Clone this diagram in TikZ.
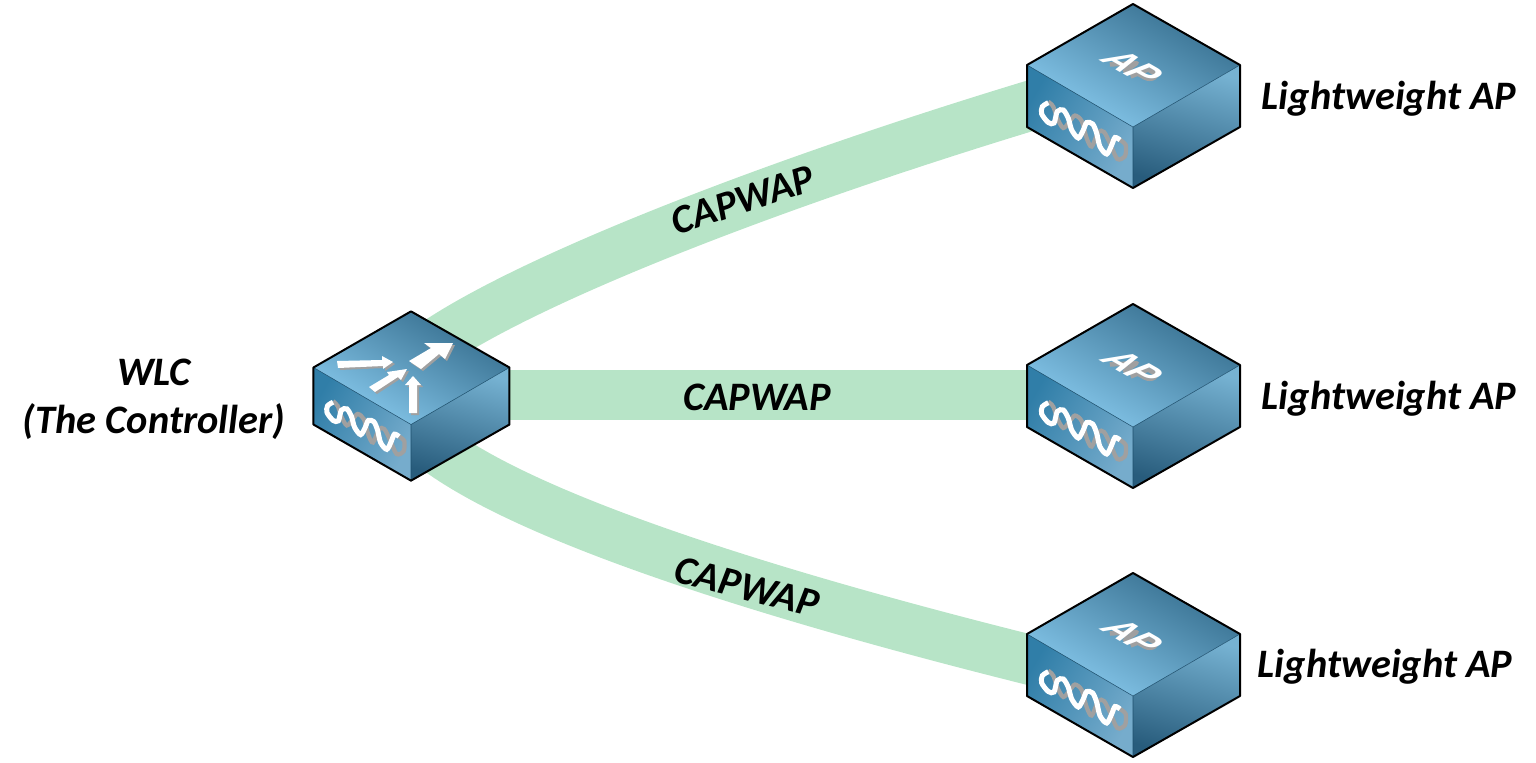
\documentclass[tikz,border=0pt]{standalone}
\usepackage{fontspec}
\setmainfont{Carlito}
\newfontfamily\aplabelfont{Liberation Sans}
\usetikzlibrary{calc}

\definecolor{bandgreen}{HTML}{B7E4C7}
\definecolor{shadowgray}{HTML}{A0A0A0}
\definecolor{topbright}{RGB}{136,202,238}
\definecolor{topdark}{RGB}{52,108,140}
\definecolor{leftdark}{RGB}{48,126,168}
\definecolor{leftbright}{RGB}{118,172,204}
\definecolor{rightbright}{RGB}{118,178,210}
\definecolor{rightdark}{RGB}{40,92,124}
\definecolor{edgeteal}{RGB}{30,80,110}

\tikzset{
	capwap/.style={bandgreen, line width=1cm},
	labeltext/.style={font=\fontsize{23}{27.5}\selectfont\bfseries\itshape, align=center, inner sep=0pt},
	pics/cubebox/.style={code={
		\shade[left color=topbright, right color=topdark, shading angle=150]
			(0,-92) -- (107,-31) -- (0,31) -- (-106,-31) -- cycle;
		\shade[left color=leftdark, right color=leftbright, shading angle=60]
			(-106,-31) -- (0,31) -- (0,92) -- (-106,31) -- cycle;
		\shade[top color=rightbright, bottom color=rightdark, shading angle=-15]
			(0,31) -- (107,-31) -- (107,31) -- (0,92) -- cycle;
		\draw[line width=.3pt, edgeteal] (-106,-31) -- (0,31) -- (107,-31) (0,31) -- (0,92);
		% chain on the front
		\draw[shadowgray, line width=.085cm] plot[smooth] coordinates {(-84.7,5.7) (-79.7,10.7) (-75.7,22.3) (-69.7,32) (-63,25) (-58,19.5) (-51.3,25) (-46.3,42.3) (-41.3,50.5) (-34.7,36) (-29,36) (-23,47.3) (-15.7,63) (-8,60) (-7.3,49) (-13,44)};
		\draw[white, line width=.1cm] plot[smooth] coordinates {(-84.7,6.7) (-90.7,10.7) (-91.3,18) (-84.7,26.5) (-79,27) (-75.7,15.5) (-69.7,14) (-64.7,22.3) (-61.3,34) (-54.7,42) (-49.7,34) (-46.3,26.5) (-40.3,28) (-36.3,37.3) (-33,50.7) (-26.3,58) (-21.3,49) (-18,41.5) (-13,44)};
		\draw[line width=.04cm, line join=round]
			(0,-92) -- (107,-31) -- (107,31) -- (0,92) -- (-106,31) -- (-106,-31) -- cycle;
	}},
	pics/aptext/.style={code={
		\begin{scope}[shift={(2,-26)}, cm={.87,-.5,.87,.5,(0,0)}]
			\draw[shadowgray, line width=.09cm, line join=round]
				(-20,9) -- (-6,-8) -- (-4,9) (-12,3) -- (-5,3)
				(4,9) -- (7,-8) -- (14,-8) .. controls (21,-8) and (20,2) .. (13,2) -- (6,2);
		\end{scope}
		\node[white, font=\aplabelfont\fontsize{21}{21}\selectfont\bfseries\itshape, transform shape, cm={.87,-.5,.87,.5,(0,0)}, inner sep=0pt] (-label) at (0,-29) {AP};
	}},
	pics/wlcarrows/.style={code={
		\foreach \dx/\dy/\arcol in {2/2/shadowgray, 0/0/white} {
			\begin{scope}[shift={(\dx,\dy)}]
				\fill[\arcol] (-2,-35) -- (20,-48) -- (13,-53) -- (42,-53) -- (34,-37) -- (28,-42) -- (10,-27) -- cycle;
				\fill[\arcol] (-74,-35) -- (-29,-36) -- (-29,-40) -- (-18,-34) -- (-28,-27) -- (-28,-30) -- (-73,-28) -- cycle;
				\fill[\arcol] (-42,-9) -- (-22,-21) -- (-24,-24) -- (-4,-27) -- (-10,-16) -- (-13,-19) -- (-36,-4) -- cycle;
				\fill[\arcol] (2,-20) -- (10,-11) -- (6,-11) -- (6,17) -- (-2,17) -- (-2,-11) -- (-6,-11) -- cycle;
			\end{scope}
		}
	}}
}

\begin{document}
\begin{tikzpicture}[x=0.02cm, y=-0.02cm]

	\useasboundingbox (0,0) rectangle (1536,762);

	\coordinate (wlc) at (411,395);
	\coordinate (ap1) at (1133,96);
	\coordinate (ap2) at (1133,395);
	\coordinate (ap3) at (1133,665);

	\coordinate (wlcup) at (423,352);
	\coordinate (wlcdown) at (425,440);
	\coordinate (ap1port) at (1100,85);
	\coordinate (ap3port) at (1100,677);

	% tunnels
	\draw[capwap] (wlcup) .. controls (520,280) and (800,172) .. (ap1port);
	\draw[capwap] (wlc) -- (ap2);
	\draw[capwap] (wlcdown) .. controls (520,520) and (800,605) .. (ap3port);

	% devices
	\pic[scale=.92] at (411,396) {cubebox};
	\pic at (411,396) {wlcarrows};
	\pic (ap1dev) at (ap1) {cubebox};
	\pic (ap1dev) at (ap1) {aptext};
	\pic (ap2dev) at (1133,396) {cubebox};
	\pic (ap2dev) at (1133,396) {aptext};
	\pic (ap3dev) at (ap3) {cubebox};
	\pic (ap3dev) at (ap3) {aptext};

	\node[labeltext, rotate=18] (tunnel1) at (743,200) {CAPWAP};
	\node[labeltext] (tunnel2) at (757,397) {CAPWAP};
	\node[labeltext, rotate=-14] (tunnel3) at (747,587) {CAPWAP};

	\node[labeltext] (wlcname) at (154,399) {WLC\\(The Controller)};
	\node[labeltext] (ap1name) at (1389,99) {Lightweight AP};
	\node[labeltext] (ap2name) at (1389,399) {Lightweight AP};
	\node[labeltext] (ap3name) at (1385,667) {Lightweight AP};

\end{tikzpicture}
\end{document}
